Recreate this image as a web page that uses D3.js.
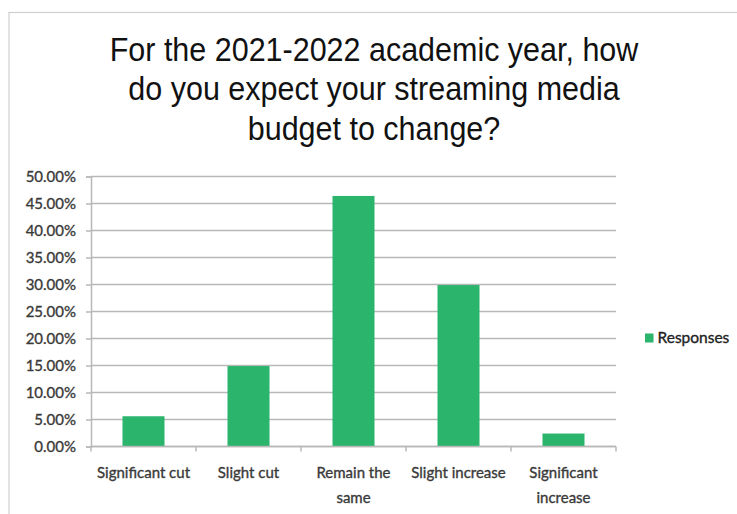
<!DOCTYPE html>
<html>
<head>
<meta charset="utf-8">
<script src="https://cdn.jsdelivr.net/npm/d3@7"></script>
<style>
  html, body { margin: 0; padding: 0; background: #fff; }
  svg { display: block; }
</style>
</head>
<body>
<svg id="chart" width="737" height="514"></svg>
<script>
// Survey responses: expected change in streaming media budget
const categories = [["Significant cut"], ["Slight cut"], ["Remain the", "same"], ["Slight increase"], ["Significant", "increase"]];
const responses = [5.6, 14.9, 46.4, 29.9, 2.4];
const yTicks = [0, 5, 10, 15, 20, 25, 30, 35, 40, 45, 50];
const titleLines = ["For the 2021-2022 academic year, how", "do you expect your streaming media", "budget to change?"];
const seriesName = "Responses";

const svg = d3.select("#chart");
const barColor = "#2bb46c";
const gridColor = "#b8b8b8";
const labelFont = "Lato, 'Open Sans', sans-serif";
const labelColor = "#3a3a3a";

// chart frame
svg.append("rect").attr("x", 9).attr("y", 12.5).attr("width", 740).attr("height", 520)
  .attr("fill", "none").attr("stroke", "#d0d0d0").attr("stroke-width", 1.2);

// title (slightly tall letterforms)
svg.append("g").attr("transform", "translate(374,0) scale(1,1.06)")
  .selectAll("text").data(titleLines).join("text")
  .attr("x", 0).attr("y", (d, i) => (61 + i * 39.5) / 1.06)
  .attr("text-anchor", "middle")
  .attr("font-family", "'Liberation Sans', Arial, sans-serif")
  .attr("font-size", 30.5).attr("fill", "#111")
  .text(d => d);

const plotLeft = 91, plotRight = 616, plotTop = 176.5, plotBottom = 446.5;
const x = d3.scaleBand().domain(d3.range(categories.length)).range([plotLeft, plotRight]).paddingInner(0.6).paddingOuter(0.3);
const xb = d3.scaleBand().domain(d3.range(categories.length)).range([plotLeft, plotRight]);
const y = d3.scaleLinear().domain([0, 50]).range([plotBottom, plotTop]);

// horizontal gridlines
svg.append("g").selectAll("line").data(yTicks).join("line")
  .attr("x1", plotLeft).attr("x2", plotRight)
  .attr("y1", d => y(d)).attr("y2", d => y(d))
  .attr("stroke", gridColor).attr("stroke-width", 1.5);

// y axis
const yAxis = svg.append("g").attr("transform", `translate(${plotLeft},0)`)
  .call(d3.axisLeft(y).tickValues(yTicks).tickSize(5).tickPadding(10).tickFormat(d => d.toFixed(2) + "%"));
yAxis.select(".domain").attr("stroke", gridColor).attr("stroke-width", 1.5);
yAxis.selectAll(".tick line").attr("stroke", gridColor).attr("stroke-width", 1.5);
yAxis.selectAll("text").attr("font-family", labelFont).attr("font-size", 15)
  .attr("fill", labelColor).attr("stroke", labelColor).attr("stroke-width", 0.35);

// bars
svg.append("g").selectAll("rect").data(responses).join("rect")
  .attr("x", (d, i) => x(i)).attr("width", x.bandwidth())
  .attr("y", d => y(d)).attr("height", d => plotBottom - y(d))
  .attr("fill", barColor);

// x axis with ticks at category boundaries
const xAxisG = svg.append("g").attr("transform", `translate(0,${plotBottom})`);
xAxisG.append("line").attr("x1", plotLeft).attr("x2", plotRight).attr("stroke", gridColor).attr("stroke-width", 1.5);
const bounds = d3.range(categories.length + 1).map(i => i < categories.length ? xb(i) : plotRight);
xAxisG.selectAll("line.tk").data(bounds).join("line").attr("class", "tk")
  .attr("x1", d => d).attr("x2", d => d).attr("y1", 0).attr("y2", 5)
  .attr("stroke", gridColor).attr("stroke-width", 1.5);

// category labels
const cat = xAxisG.selectAll("text").data(categories).join("text")
  .attr("x", (d, i) => xb(i) + xb.bandwidth() / 2)
  .attr("y", 31)
  .attr("text-anchor", "middle")
  .attr("font-family", labelFont).attr("font-size", 15)
  .attr("fill", labelColor).attr("stroke", labelColor).attr("stroke-width", 0.35);
cat.selectAll("tspan").data(d => d).join("tspan")
  .attr("x", function () { return d3.select(this.parentNode).attr("x"); })
  .attr("dy", (d, i) => i === 0 ? 0 : 25)
  .text(d => d);

// legend
const lg = svg.append("g").attr("transform", "translate(645,338)");
lg.append("rect").attr("x", 0).attr("y", -4.5).attr("width", 8.5).attr("height", 9).attr("fill", barColor);
lg.append("text").attr("x", 12.5).attr("y", 0).attr("dy", "0.35em")
  .attr("font-family", labelFont).attr("font-size", 15.5)
  .attr("fill", "#222").attr("stroke", "#222").attr("stroke-width", 0.35)
  .text(seriesName);
</script>
</body>
</html>
